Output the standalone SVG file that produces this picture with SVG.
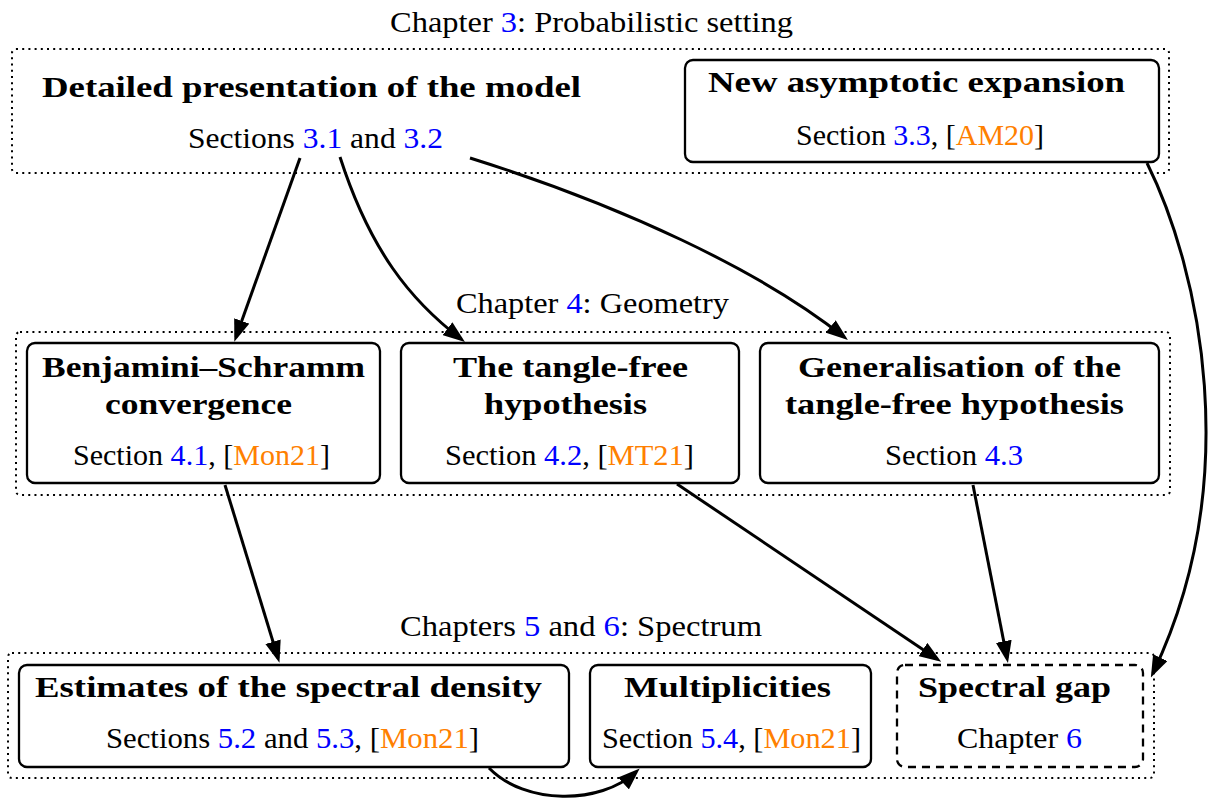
<svg xmlns="http://www.w3.org/2000/svg" width="1209" height="799" viewBox="0 0 1209 799">
<style>
.t{font-family:"Liberation Serif","Times New Roman",serif;font-size:30px;fill:#000}
.b{font-weight:bold}
.bl{fill:#0000ff}
.or{fill:#ff8000}
.grp{fill:none;stroke:#000;stroke-width:2;stroke-dasharray:2 4.2}
.box{fill:#fff;stroke:#000;stroke-width:2.3}
.dbox{fill:#fff;stroke:#000;stroke-width:2.3;stroke-dasharray:8 6}
.con{fill:none;stroke:#000;stroke-width:3;marker-end:url(#ah)}
</style>
<defs>
<marker id="ah" viewBox="0 0 22 16" refX="17" refY="8" markerWidth="22" markerHeight="16" markerUnits="userSpaceOnUse" orient="auto">
<path d="M0,0 L22,8 L0,16 Z" fill="#000"/>
</marker>
</defs>
<rect width="1209" height="799" fill="#fff"/>

<g id="chapter3">
<text class="t" x="390" y="32" textLength="403" lengthAdjust="spacingAndGlyphs">Chapter <tspan class="bl">3</tspan>: Probabilistic setting</text>
<rect class="grp" x="12" y="49" width="1157" height="124" rx="4"/>
</g>
<g id="model">
<text class="t b" x="42" y="97" textLength="539" lengthAdjust="spacingAndGlyphs">Detailed presentation of the model</text>
<text class="t" x="188" y="148" textLength="255" lengthAdjust="spacingAndGlyphs">Sections <tspan class="bl">3.1</tspan> and <tspan class="bl">3.2</tspan></text>
</g>
<g id="asymptotic">
<rect class="box" x="685" y="60" width="474" height="102" rx="8"/>
<text class="t b" x="708" y="92" textLength="417" lengthAdjust="spacingAndGlyphs">New asymptotic expansion</text>
<text class="t" x="796" y="145" textLength="248" lengthAdjust="spacingAndGlyphs">Section <tspan class="bl">3.3</tspan>, [<tspan class="or">AM20</tspan>]</text>
</g>

<g id="chapter4">
<text class="t" x="456" y="313" textLength="273" lengthAdjust="spacingAndGlyphs">Chapter <tspan class="bl">4</tspan>: Geometry</text>
<rect class="grp" x="16" y="332" width="1154" height="163" rx="4"/>
</g>
<g id="bs">
<rect class="box" x="27" y="343" width="353" height="140" rx="8"/>
<text class="t b" x="42" y="377" textLength="323" lengthAdjust="spacingAndGlyphs">Benjamini–Schramm</text>
<text class="t b" x="105" y="414" textLength="187" lengthAdjust="spacingAndGlyphs">convergence</text>
<text class="t" x="73" y="465" textLength="257" lengthAdjust="spacingAndGlyphs">Section <tspan class="bl">4.1</tspan>, [<tspan class="or">Mon21</tspan>]</text>
</g>
<g id="tanglefree">
<rect class="box" x="401" y="343" width="338" height="140" rx="8"/>
<text class="t b" x="453" y="377" textLength="235" lengthAdjust="spacingAndGlyphs">The tangle-free</text>
<text class="t b" x="484" y="414" textLength="163" lengthAdjust="spacingAndGlyphs">hypothesis</text>
<text class="t" x="445" y="465" textLength="249" lengthAdjust="spacingAndGlyphs">Section <tspan class="bl">4.2</tspan>, [<tspan class="or">MT21</tspan>]</text>
</g>
<g id="generalisation">
<rect class="box" x="760" y="343" width="399" height="140" rx="8"/>
<text class="t b" x="798" y="377" textLength="323" lengthAdjust="spacingAndGlyphs">Generalisation of the</text>
<text class="t b" x="785" y="414" textLength="339" lengthAdjust="spacingAndGlyphs">tangle-free hypothesis</text>
<text class="t" x="885" y="465" textLength="138" lengthAdjust="spacingAndGlyphs">Section <tspan class="bl">4.3</tspan></text>
</g>

<g id="chapters56">
<text class="t" x="400" y="636" textLength="362" lengthAdjust="spacingAndGlyphs">Chapters <tspan class="bl">5</tspan> and <tspan class="bl">6</tspan>: Spectrum</text>
<rect class="grp" x="8" y="653" width="1146" height="125" rx="4"/>
</g>
<g id="density">
<rect class="box" x="19" y="665" width="550" height="102" rx="8"/>
<text class="t b" x="35" y="697" textLength="507" lengthAdjust="spacingAndGlyphs">Estimates of the spectral density</text>
<text class="t" x="106" y="748" textLength="373" lengthAdjust="spacingAndGlyphs">Sections <tspan class="bl">5.2</tspan> and <tspan class="bl">5.3</tspan>, [<tspan class="or">Mon21</tspan>]</text>
</g>
<g id="multiplicities">
<rect class="box" x="590" y="665" width="281" height="102" rx="8"/>
<text class="t b" x="624" y="697" textLength="207" lengthAdjust="spacingAndGlyphs">Multiplicities</text>
<text class="t" x="602" y="748" textLength="259" lengthAdjust="spacingAndGlyphs">Section <tspan class="bl">5.4</tspan>, [<tspan class="or">Mon21</tspan>]</text>
</g>
<g id="spectralgap">
<rect class="dbox" x="897" y="665" width="246" height="102" rx="8"/>
<text class="t b" x="918" y="697" textLength="193" lengthAdjust="spacingAndGlyphs">Spectral gap</text>
<text class="t" x="957" y="748" textLength="125" lengthAdjust="spacingAndGlyphs">Chapter <tspan class="bl">6</tspan></text>
</g>

<g id="connectors">
<path class="con" d="M300,158 L236,337"/>
<path class="con" d="M340,157 C370,250 410,300 461,339"/>
<path class="con" d="M470,158 C620,205 760,270 844,337"/>
<path class="con" d="M1147,163 C1200,270 1245,480 1153,673"/>
<path class="con" d="M225,485 L278,658"/>
<path class="con" d="M677,484 L937,659"/>
<path class="con" d="M973,485 L1007,658"/>
<path class="con" d="M489,768 C525,805 600,805 636,772"/>
</g>
</svg>
